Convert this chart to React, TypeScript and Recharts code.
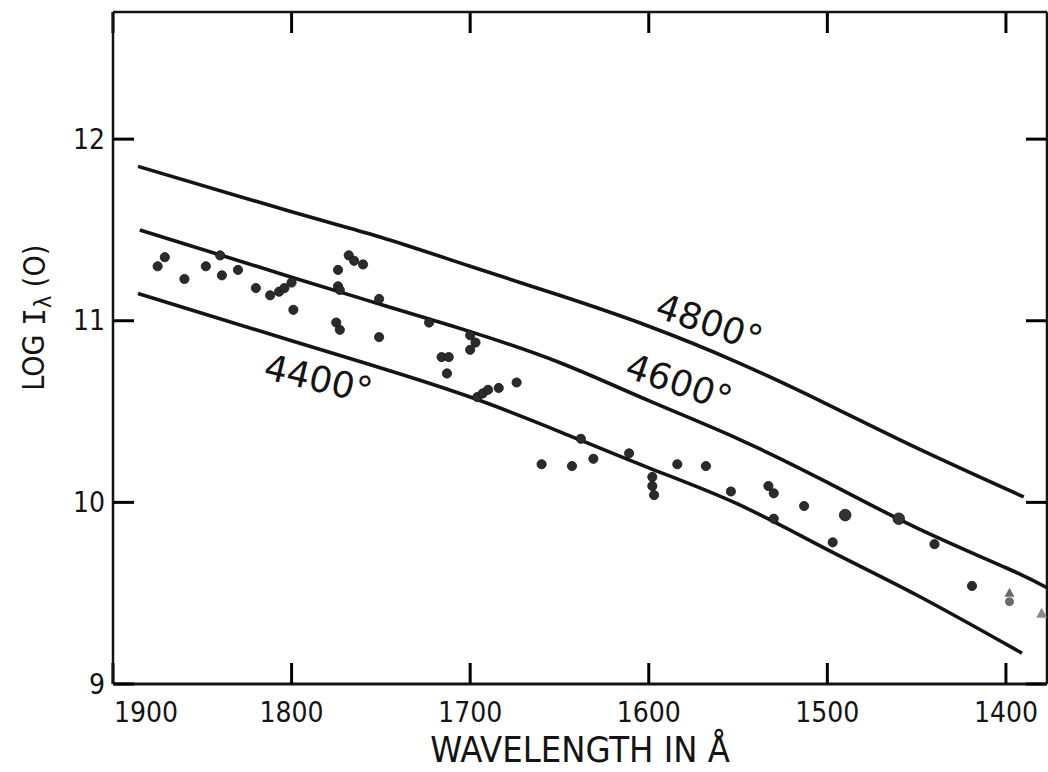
import { ComposedChart, Line, Scatter, XAxis, YAxis, ReferenceDot } from 'recharts';

// axis ticks
const wavelengthTicks = [1900, 1800, 1700, 1600, 1500, 1400];
const logTicks = [9, 10, 11, 12];

// model curves, log I(0) vs wavelength (Å)
const curve4800 = [
  { w: 1886, v: 11.85 }, { w: 1800, v: 11.6 }, { w: 1750, v: 11.46 }, { w: 1700, v: 11.3 },
  { w: 1650, v: 11.14 }, { w: 1600, v: 10.97 }, { w: 1550, v: 10.77 }, { w: 1500, v: 10.54 },
  { w: 1450, v: 10.3 }, { w: 1390, v: 10.03 },
];
const curve4600 = [
  { w: 1885, v: 11.5 }, { w: 1800, v: 11.24 }, { w: 1750, v: 11.09 }, { w: 1700, v: 10.94 },
  { w: 1650, v: 10.77 }, { w: 1600, v: 10.56 }, { w: 1550, v: 10.35 }, { w: 1500, v: 10.11 },
  { w: 1450, v: 9.86 }, { w: 1400, v: 9.64 }, { w: 1377, v: 9.53 },
];
const curve4400 = [
  { w: 1886, v: 11.15 }, { w: 1800, v: 10.89 }, { w: 1750, v: 10.74 }, { w: 1700, v: 10.58 },
  { w: 1650, v: 10.39 }, { w: 1600, v: 10.19 }, { w: 1550, v: 9.99 }, { w: 1500, v: 9.74 },
  { w: 1450, v: 9.49 }, { w: 1391, v: 9.17 },
];

// observations
const observed = [
  { w: 1875, v: 11.3 }, { w: 1871, v: 11.35 }, { w: 1860, v: 11.23 }, { w: 1848, v: 11.3 },
  { w: 1840, v: 11.36 }, { w: 1839, v: 11.25 }, { w: 1830, v: 11.28 }, { w: 1820, v: 11.18 },
  { w: 1812, v: 11.14 }, { w: 1807, v: 11.16 }, { w: 1804, v: 11.18 }, { w: 1800, v: 11.21 },
  { w: 1799, v: 11.06 }, { w: 1774, v: 11.28 }, { w: 1774, v: 11.19 }, { w: 1773, v: 11.17 },
  { w: 1768, v: 11.36 }, { w: 1765, v: 11.33 }, { w: 1760, v: 11.31 }, { w: 1775, v: 10.99 },
  { w: 1773, v: 10.95 }, { w: 1751, v: 11.12 }, { w: 1751, v: 10.91 }, { w: 1723, v: 10.99 },
  { w: 1700, v: 10.92 }, { w: 1697, v: 10.88 }, { w: 1700, v: 10.84 }, { w: 1716, v: 10.8 },
  { w: 1712, v: 10.8 }, { w: 1713, v: 10.71 }, { w: 1696, v: 10.58 }, { w: 1693, v: 10.6 },
  { w: 1690, v: 10.62 }, { w: 1684, v: 10.63 }, { w: 1674, v: 10.66 }, { w: 1660, v: 10.21 },
  { w: 1643, v: 10.2 }, { w: 1638, v: 10.35 }, { w: 1631, v: 10.24 }, { w: 1611, v: 10.27 },
  { w: 1598, v: 10.14 }, { w: 1598, v: 10.09 }, { w: 1597, v: 10.04 }, { w: 1584, v: 10.21 },
  { w: 1568, v: 10.2 }, { w: 1554, v: 10.06 }, { w: 1533, v: 10.09 }, { w: 1530, v: 10.05 },
  { w: 1530, v: 9.91 }, { w: 1513, v: 9.98 }, { w: 1497, v: 9.78 }, { w: 1440, v: 9.77 },
  { w: 1419, v: 9.54 },
];
const observedLarge = [{ w: 1490, v: 9.93 }, { w: 1460, v: 9.91 }];
const observedLimit = [{ w: 1398, v: 9.47 }];
const observedTriangle = [{ w: 1380, v: 9.39 }];

const curveLabels = [
  { text: '4800°', w: 1566, v: 10.99, angle: 19 },
  { text: '4600°', w: 1583, v: 10.66, angle: 19 },
  { text: '4400°', w: 1785, v: 10.68, angle: 13.5 },
];

const X_DOMAIN: [number, number] = [1377, 1900];
const Y_DOMAIN: [number, number] = [9, 12.7];
const INK = '#141414';
const FONT = '"DejaVu Sans Condensed", "DejaVu Sans", sans-serif';
const TICK = 21; // inward tick length (negative tickSize)
const tickStroke = { stroke: '#000', strokeWidth: 3 };

function BottomTick(props: any) {
  const { x, y, payload } = props;
  const first = payload.value === wavelengthTicks[0];
  return (
    <text x={first ? x + 1 : x} y={y + TICK + 38} textAnchor={first ? 'start' : 'middle'}
      fontFamily={FONT} fontSize={28} fill={INK}>{payload.value}</text>
  );
}

function LeftTick(props: any) {
  const { x, y, payload } = props;
  return (
    <text x={x - TICK - 8} y={y} textAnchor="end" dominantBaseline="central"
      fontFamily={FONT} fontSize={28} fill={INK}>{payload.value}</text>
  );
}

function NoLabel() {
  return <g />;
}

function XLabel(props: any) {
  const vb = props.viewBox;
  return (
    <text x={vb.x + vb.width / 2} y={762} textAnchor="middle" fontFamily={FONT}
      fontSize={36} fill={INK}>WAVELENGTH IN Å</text>
  );
}

function YLabel(props: any) {
  const vb = props.viewBox;
  const cx = 34;
  const cy = vb.y + vb.height * 0.455;
  return (
    <text x={cx} y={cy} transform={`rotate(-90 ${cx} ${cy})`} textAnchor="middle"
      dominantBaseline="central" fontFamily={FONT} fontSize={30} fill={INK}>
      LOG <tspan fontFamily='"DejaVu Sans Mono"'>I</tspan>
      <tspan dy={9} fontSize={23}>λ</tspan>
      <tspan dy={-9}> (O)</tspan>
    </text>
  );
}

function Dot(props: any) {
  return <circle cx={props.cx} cy={props.cy} r={4.6} fill="#2b2b2b" stroke={INK} strokeWidth={0.8} />;
}

function BigDot(props: any) {
  return <circle cx={props.cx} cy={props.cy} r={5.8} fill="#333" stroke={INK} strokeWidth={0.8} />;
}

function LimitMark(props: any) {
  const { cx, cy } = props;
  return (
    <g fill="#6a6a6a">
      <polygon points={`${cx - 5},${cy - 2} ${cx + 5},${cy - 2} ${cx},${cy - 11}`} />
      <circle cx={cx} cy={cy + 3} r={4.5} />
    </g>
  );
}

function TriangleMark(props: any) {
  const { cx, cy } = props;
  return <polygon points={`${cx - 5.5},${cy + 4.5} ${cx + 5.5},${cy + 4.5} ${cx},${cy - 5.5}`} fill="#8a8a8a" />;
}

function curveText(text: string, angle: number) {
  return (props: any) => (
    <text x={props.cx} y={props.cy} transform={`rotate(${angle} ${props.cx} ${props.cy})`}
      textAnchor="middle" dominantBaseline="central" fontFamily='"DejaVu Sans", sans-serif'
      fontSize={36} fill={INK}>{text}</text>
  );
}

export default function App() {
  return (
    <div style={{ position: 'absolute', left: 0, top: 0, background: '#fff' }}>
      <ComposedChart width={1048} height={772} margin={{ top: 0, right: 0, bottom: 0, left: 0 }}>
        <XAxis dataKey="w" type="number" domain={X_DOMAIN} reversed allowDataOverflow
          ticks={wavelengthTicks} interval={0} height={88} tickSize={-TICK} tickMargin={0}
          tickLine={tickStroke} tick={<BottomTick />}
          axisLine={{ stroke: INK, strokeWidth: 3 }} label={<XLabel />} />
        <XAxis xAxisId="top" orientation="top" dataKey="w" type="number" domain={X_DOMAIN}
          reversed allowDataOverflow ticks={wavelengthTicks} interval={0} height={12}
          tickSize={-TICK} tickMargin={0} tickLine={tickStroke} tick={<NoLabel />}
          axisLine={{ stroke: INK, strokeWidth: 2.5 }} />
        <YAxis type="number" domain={Y_DOMAIN} allowDataOverflow ticks={logTicks} interval={0}
          width={113} tickSize={-TICK} tickMargin={0} tickLine={tickStroke} tick={<LeftTick />}
          axisLine={{ stroke: INK, strokeWidth: 2.5 }} label={<YLabel />} />
        <YAxis yAxisId="right" orientation="right" type="number" domain={Y_DOMAIN} allowDataOverflow
          ticks={logTicks} interval={0} width={1} tickSize={-TICK} tickMargin={0}
          tickLine={tickStroke} tick={<NoLabel />} axisLine={{ stroke: INK, strokeWidth: 2.5 }} />

        <Line data={curve4800} dataKey="v" type="natural" stroke={INK} strokeWidth={3.6}
          dot={false} isAnimationActive={false} />
        <Line data={curve4600} dataKey="v" type="natural" stroke={INK} strokeWidth={3.6}
          dot={false} isAnimationActive={false} />
        <Line data={curve4400} dataKey="v" type="natural" stroke={INK} strokeWidth={3.6}
          dot={false} isAnimationActive={false} />

        <Scatter data={observed} dataKey="v" shape={<Dot />} isAnimationActive={false} />
        <Scatter data={observedLarge} dataKey="v" shape={<BigDot />} isAnimationActive={false} />
        <Scatter data={observedLimit} dataKey="v" shape={<LimitMark />} isAnimationActive={false} />
        <Scatter data={observedTriangle} dataKey="v" shape={<TriangleMark />} isAnimationActive={false} />

        {curveLabels.map((c) => (
          <ReferenceDot key={c.text} x={c.w} y={c.v} r={0} shape={curveText(c.text, c.angle)} />
        ))}
      </ComposedChart>
    </div>
  );
}
